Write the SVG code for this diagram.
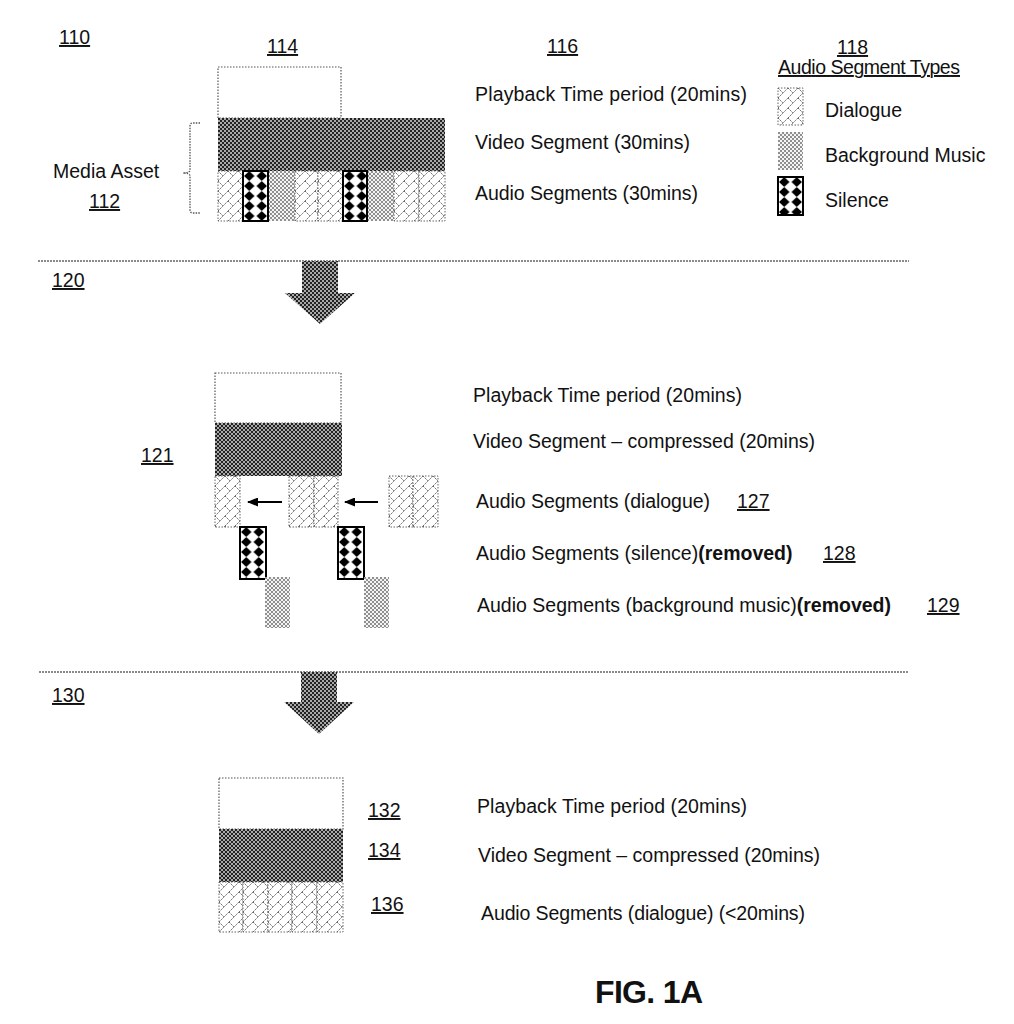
<svg xmlns="http://www.w3.org/2000/svg" width="1014" height="1024" viewBox="0 0 1014 1024">
<style>
text{font-family:"Liberation Sans",Arial,sans-serif;font-size:19.5px;fill:#111}
.ref{text-decoration:underline}
.b{font-weight:bold}
.fig{font-weight:bold;font-size:32px}
.play{fill:#fff;stroke:#555;stroke-width:1.2;stroke-dasharray:1.5 1.5}
.video{fill:url(#pVideo)}
.dlg{fill:url(#pDlg);stroke:#666;stroke-width:1;stroke-dasharray:1.5 1.5}
.music{fill:url(#pMusic)}
.sil{fill:url(#pSil);stroke:#000;stroke-width:2}
.sep{stroke:#666;stroke-width:1.3;stroke-dasharray:2 1;fill:none}
.big{fill:url(#pVideo)}
.small{stroke:#000;stroke-width:2;fill:none;marker-end:url(#ah)}
.brace{stroke:#555;stroke-width:1.3;stroke-dasharray:1.5 1.2;fill:none}
</style>
<defs>
<pattern id="pVideo" width="4" height="4" patternUnits="userSpaceOnUse">
<rect width="4" height="4" fill="#a8a8a8"/>
<rect width="2" height="2" fill="#222"/>
<rect x="2" y="2" width="2" height="2" fill="#222"/>
</pattern>
<pattern id="pMusic" width="4" height="4" patternUnits="userSpaceOnUse">
<rect width="4" height="4" fill="#f4f4f4"/>
<rect width="2" height="2" fill="#909090"/>
<rect x="2" y="2" width="2" height="2" fill="#909090"/>
</pattern>
<pattern id="pDlg" width="10" height="10" patternUnits="userSpaceOnUse">
<rect width="10" height="10" fill="#fff"/>
<path d="M0,10 L10,0 M0,0 L5,5" stroke="#6a6a6a" stroke-width="1" stroke-dasharray="2 1" fill="none"/>
</pattern>
<pattern id="pSil" width="12.5" height="10" patternUnits="userSpaceOnUse">
<rect width="12.5" height="10" fill="#fff"/>
<path d="M6.25,0 L11.5,5 L6.25,10 L1,5 z" fill="#000"/>
</pattern>
<marker id="ah" markerWidth="11" markerHeight="9" refX="10" refY="4.5" orient="auto" markerUnits="userSpaceOnUse">
<path d="M0,0 L11,4.5 L0,9 z" fill="#000"/>
</marker>
</defs>
<rect width="1014" height="1024" fill="#fff"/>

<!-- Section 110 -->
<g id="label-110"><text x="59" y="44" class="ref">110</text></g>
<g id="label-114"><text x="267" y="53" class="ref">114</text></g>
<g id="label-116"><text x="547" y="53" class="ref">116</text></g>
<g id="media-asset">
<text x="53" y="178">Media Asset</text>
<text x="89" y="208" class="ref">112</text>
<path class="brace" d="M200,123 L193,123 Q190,123 190,126 L190,170 Q190,173 183,173 Q190,173 190,176 L190,210 Q190,213 193,213 L200,213"/>
</g>
<g id="asset-playback"><rect class="play" x="218" y="67" width="123" height="51"/></g>
<g id="asset-video"><rect class="video" transform="translate(218,118)" width="227" height="53"/></g>
<g id="asset-audio">
<rect class="dlg" transform="translate(218,171)" width="25" height="50"/>
<rect class="music" transform="translate(268,171)" width="27" height="50"/>
<rect class="dlg" transform="translate(295,171)" width="23" height="50"/>
<rect class="dlg" transform="translate(318,171)" width="25" height="50"/>
<rect class="music" transform="translate(367,171)" width="27" height="50"/>
<rect class="dlg" transform="translate(394,171)" width="25" height="50"/>
<rect class="dlg" transform="translate(419,171)" width="26" height="50"/>
<rect class="sil" transform="translate(243,171)" width="25" height="50"/>
<rect class="sil" transform="translate(343,171)" width="24" height="50"/>
</g>
<g id="asset-texts">
<text x="475" y="101" textLength="272">Playback Time period (20mins)</text>
<text x="475" y="149" textLength="215">Video Segment (30mins)</text>
<text x="475" y="200" textLength="223">Audio Segments (30mins)</text>
</g>
<g id="legend-118">
<text x="837" y="54" class="ref">118</text>
<text x="778" y="74" class="ref" textLength="182">Audio Segment Types</text>
<rect class="dlg" transform="translate(778,88)" width="25" height="37"/>
<text x="825" y="117">Dialogue</text>
<rect class="music" transform="translate(778,132)" width="25" height="38"/>
<text x="825" y="162">Background Music</text>
<rect class="sil" transform="translate(778,177)" width="25" height="38"/>
<text x="825" y="207">Silence</text>
</g>

<!-- Section 120 -->
<g id="label-120"><text x="52" y="287" class="ref">120</text></g>
<g id="label-121"><text x="141" y="462" class="ref">121</text></g>
<g id="proc-playback"><rect class="play" x="215" y="373" width="126" height="50"/></g>
<g id="proc-video"><rect class="video" transform="translate(215,423)" width="127" height="53"/></g>
<g id="proc-dialogue-127">
<rect class="dlg" transform="translate(215,476)" width="25" height="51"/>
<rect class="dlg" transform="translate(289,476)" width="25" height="51"/>
<rect class="dlg" transform="translate(314,476)" width="24" height="51"/>
<rect class="dlg" transform="translate(389,476)" width="24" height="51"/>
<rect class="dlg" transform="translate(413,476)" width="25" height="51"/>
</g>
<g id="proc-silence-128">
<rect class="sil" transform="translate(240,527)" width="26" height="52"/>
<rect class="sil" transform="translate(338,527)" width="26" height="52"/>
</g>
<g id="proc-music-129">
<rect class="music" transform="translate(265,577)" width="25" height="51"/>
<rect class="music" transform="translate(364,577)" width="25" height="51"/>
</g>
<g id="proc-texts">
<text x="473" y="402" textLength="269">Playback Time period (20mins)</text>
<text x="473" y="448" textLength="342">Video Segment – compressed (20mins)</text>
<text x="476" y="508" textLength="234">Audio Segments (dialogue)</text>
<text x="737" y="508" class="ref">127</text>
<text x="476" y="560">Audio Segments (silence)<tspan class="b">(removed)</tspan></text>
<text x="823" y="560" class="ref">128</text>
<text x="477" y="612">Audio Segments (background music)<tspan class="b">(removed)</tspan></text>
<text x="927" y="612" class="ref">129</text>
</g>

<!-- Section 130 -->
<g id="label-130"><text x="52" y="702" class="ref">130</text></g>
<g id="result-playback"><rect class="play" x="219" y="778" width="124" height="51"/><text x="368" y="817" class="ref">132</text></g>
<g id="result-video"><rect class="video" transform="translate(219,829)" width="124" height="53"/><text x="368" y="857" class="ref">134</text></g>
<g id="result-audio">
<rect class="dlg" transform="translate(219,882)" width="24" height="50"/>
<rect class="dlg" transform="translate(243,882)" width="25" height="50"/>
<rect class="dlg" transform="translate(268,882)" width="24" height="50"/>
<rect class="dlg" transform="translate(292,882)" width="25" height="50"/>
<rect class="dlg" transform="translate(317,882)" width="26" height="50"/>
<text x="371" y="911" class="ref">136</text>
</g>
<g id="result-texts">
<text x="477" y="813" textLength="270">Playback Time period (20mins)</text>
<text x="478" y="862" textLength="342">Video Segment – compressed (20mins)</text>
<text x="481" y="920" textLength="324">Audio Segments (dialogue) (&lt;20mins)</text>
</g>

<g id="connectors">
<line class="sep" x1="38" y1="261" x2="909" y2="261"/>
<line class="sep" x1="39" y1="672" x2="909" y2="672"/>
<polygon class="big" points="302,261 338,261 338,293 355,293 320,324 285,293 302,293"/>
<polygon class="big" points="301,672 337,672 337,702 354,702 319,734 284,702 301,702"/>
<line class="small" x1="282" y1="502" x2="248" y2="502"/>
<line class="small" x1="378" y1="502" x2="345" y2="502"/>
</g>

<g id="caption"><text x="595" y="1003" class="fig" textLength="108">FIG. 1A</text></g>
</svg>
